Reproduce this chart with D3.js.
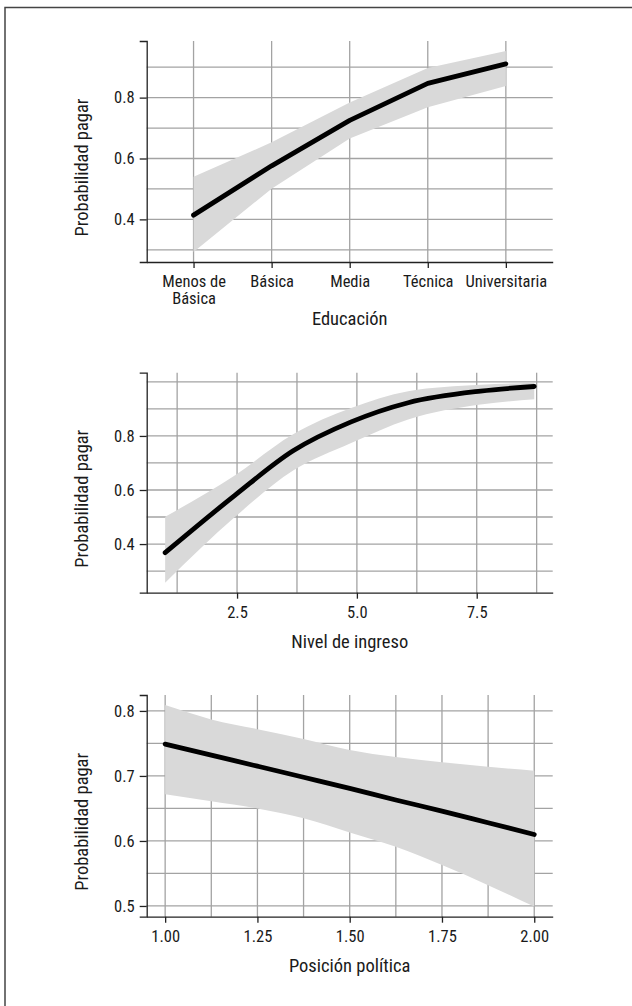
<!DOCTYPE html>
<html>
<head>
<meta charset="utf-8">
<script src="https://cdn.jsdelivr.net/npm/d3@7"></script>
<style>
  body { margin: 0; background: #fff; }
  svg text { font-family: "Liberation Sans Narrow", "Arial Narrow", "Roboto Condensed", sans-serif; fill: #1a1a1a; }
</style>
</head>
<body>
<div class="chart"></div>
<script>
let svgWidth = 632;
let svgHeight = 1006;

// Panel 1: education
let eduCats = ["Menos de Básica", "Básica", "Media", "Técnica", "Universitaria"];
let eduTickLines = [["Menos de", "Básica"], ["Básica"], ["Media"], ["Técnica"], ["Universitaria"]];
let eduFit = [0.414, 0.576, 0.725, 0.847, 0.911];
let eduLo  = [0.293, 0.501, 0.666, 0.768, 0.838];
let eduHi  = [0.540, 0.653, 0.784, 0.897, 0.953];
let eduYTicks = [0.4, 0.6, 0.8];
let eduYMinor = [0.3, 0.5, 0.7, 0.9];

// Panel 2: income
let ingX   = [1.0, 2.46, 3.67, 4.88, 6.07, 7.58, 8.7];
let ingFit = [0.368, 0.581, 0.745, 0.852, 0.923, 0.966, 0.983];
let ingLo  = [0.257, 0.501, 0.672, 0.774, 0.861, 0.916, 0.936];
let ingHi  = [0.501, 0.655, 0.806, 0.903, 0.965, 0.989, 0.997];
let ingXTicks = [2.5, 5.0, 7.5];
let ingXMinor = [1.25, 3.75, 6.25, 8.75];
let ingYTicks = [0.4, 0.6, 0.8];
let ingYMinor = [0.3, 0.5, 0.7, 0.9, 1.0];

// Panel 3: political position
let polX   = [1.0, 1.125, 1.25, 1.375, 1.5, 1.625, 1.75, 1.875, 2.0];
let polFit = [0.749, 0.732, 0.715, 0.698, 0.681, 0.663, 0.646, 0.628, 0.610];
let polLo  = [0.672, 0.661, 0.650, 0.635, 0.613, 0.591, 0.563, 0.532, 0.499];
let polHi  = [0.809, 0.787, 0.772, 0.757, 0.740, 0.729, 0.721, 0.714, 0.708];
let polXTicks = [1.0, 1.25, 1.5, 1.75, 2.0];
let polXMinor = [1.125, 1.375, 1.625, 1.875];
let polYTicks = [0.5, 0.6, 0.7, 0.8];
let polYMinor = [0.55, 0.65, 0.75];

let yTitle = "Probabilidad pagar";

let svg = d3.select(".chart")
    .append("svg")
    .attr("width", svgWidth)
    .attr("height", svgHeight);

// cropped frame, only top and left edges show
svg.append("rect")
    .attr("x", 5).attr("y", 7.5)
    .attr("width", 800).attr("height", 1200)
    .attr("fill", "none")
    .attr("stroke", "#444")
    .attr("stroke-width", 1.5);

let left = 146.7, plotW = 406;

// ggplot-like 5% expansion
function expand(lo, hi) {
    let r = hi - lo;
    return [lo - r * 0.05, hi + r * 0.05];
}

function drawPanel(p) {
    let g = svg.append("g").attr("transform", `translate(${left}, ${p.top})`);
    let h = p.height;
    let x = p.x, y = p.y;

    // grid
    let grid = g.append("g").attr("stroke", "#a3a3a3").attr("stroke-width", 1.3);
    grid.selectAll(".hx")
        .data(p.yGrid)
        .enter().append("line")
        .attr("x1", 0).attr("x2", plotW)
        .attr("y1", d => y(d)).attr("y2", d => y(d));
    grid.selectAll(".vx")
        .data(p.xGrid)
        .enter().append("line")
        .attr("y1", 0).attr("y2", h)
        .attr("x1", d => x(d)).attr("x2", d => x(d));

    // ribbon + line
    let area = d3.area()
        .x(d => x(d.x))
        .y0(d => y(d.lo))
        .y1(d => y(d.hi))
        .curve(p.curve);
    let line = d3.line()
        .x(d => x(d.x))
        .y(d => y(d.fit))
        .curve(p.curve);

    g.append("path")
        .datum(p.data)
        .attr("d", area)
        .attr("fill", "#d9d9d9");
    g.append("path")
        .datum(p.data)
        .attr("d", line)
        .attr("fill", "none")
        .attr("stroke", "#000")
        .attr("stroke-width", 4.8)
        .attr("stroke-linecap", "round")
        .attr("stroke-linejoin", "round");

    // axes
    let yAxis = g.append("g")
        .call(d3.axisLeft(y).tickValues(p.yTicks).tickSize(7).tickPadding(5).tickFormat(d3.format(".1f")));
    let xAxis = g.append("g")
        .attr("transform", `translate(0, ${h})`)
        .call(d3.axisBottom(x).tickValues(p.xTicks).tickSizeInner(6).tickSizeOuter(0).tickPadding(7.5).tickFormat(p.xFormat));

    [yAxis, xAxis].forEach(a => {
        a.select(".domain").attr("stroke", "#222").attr("stroke-width", 1.3);
        a.selectAll(".tick line").attr("stroke", "#222").attr("stroke-width", 1.3);
        a.selectAll("text").style("font-size", "16.5px").attr("fill", "#1a1a1a");
    });

    if (p.multiLine) p.multiLine(xAxis);

    g.append("text")
        .attr("x", plotW / 2)
        .attr("y", h + p.titleDy)
        .attr("text-anchor", "middle")
        .style("font-size", "18.5px")
        .text(p.xTitle);

    g.append("text")
        .attr("transform", "rotate(-90)")
        .attr("x", -(h / 2) - 16)
        .attr("y", -59)
        .attr("text-anchor", "middle")
        .style("font-size", "18.5px")
        .text(yTitle);
}

// panel 1
let h1 = 221;
let x1 = d3.scalePoint().domain(eduCats).range([0, plotW]).padding(0.6);
let y1 = d3.scaleLinear().domain(expand(d3.min(eduLo), d3.max(eduHi))).range([h1, 0]);
drawPanel({
    top: 41, height: h1, x: x1, y: y1,
    data: eduCats.map((c, i) => ({x: c, fit: eduFit[i], lo: eduLo[i], hi: eduHi[i]})),
    curve: d3.curveLinear,
    xTicks: eduCats, xGrid: eduCats,
    yTicks: eduYTicks, yGrid: eduYTicks.concat(eduYMinor),
    xFormat: d => d,
    xTitle: "Educación", titleDy: 63,
    multiLine: a => {
        a.selectAll(".tick text").each(function(d, i) {
            let t = d3.select(this).text("");
            eduTickLines[i].forEach((s, k) => {
                t.append("tspan").attr("x", 0).attr("dy", k === 0 ? "0.71em" : "1.02em").text(s);
            });
        });
    }
});

// panel 2
let h2 = 220;
let x2 = d3.scaleLinear().domain(expand(d3.min(ingX), d3.max(ingX))).range([0, plotW]);
let y2 = d3.scaleLinear().domain(expand(d3.min(ingLo), d3.max(ingHi))).range([h2, 0]);
drawPanel({
    top: 372.7, height: h2, x: x2, y: y2,
    data: ingX.map((v, i) => ({x: v, fit: ingFit[i], lo: ingLo[i], hi: ingHi[i]})),
    curve: d3.curveMonotoneX,
    xTicks: ingXTicks, xGrid: ingXTicks.concat(ingXMinor),
    yTicks: ingYTicks, yGrid: ingYTicks.concat(ingYMinor),
    xFormat: d3.format(".1f"),
    xTitle: "Nivel de ingreso", titleDy: 55.6
});

// panel 3
let h3 = 221.7;
let x3 = d3.scaleLinear().domain(expand(d3.min(polX), d3.max(polX))).range([0, plotW]);
let y3 = d3.scaleLinear().domain(expand(d3.min(polLo), d3.max(polHi))).range([h3, 0]);
drawPanel({
    top: 695, height: h3, x: x3, y: y3,
    data: polX.map((v, i) => ({x: v, fit: polFit[i], lo: polLo[i], hi: polHi[i]})),
    curve: d3.curveMonotoneX,
    xTicks: polXTicks, xGrid: polXTicks.concat(polXMinor),
    yTicks: polYTicks, yGrid: polYTicks.concat(polYMinor),
    xFormat: d3.format(".2f"),
    xTitle: "Posición política", titleDy: 55
});
</script>
</body>
</html>
